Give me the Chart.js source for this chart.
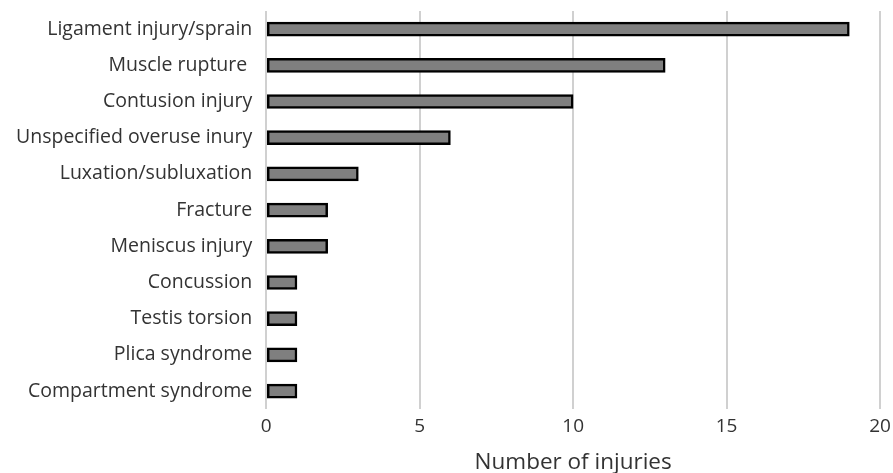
<!DOCTYPE html>
<html>
<head>
<meta charset="utf-8">
<script src="https://cdn.jsdelivr.net/npm/chart.js@4.4.1/dist/chart.umd.min.js"></script>
<style>
  html, body { margin: 0; padding: 0; background: #fff; }
  #wrap { width: 893px; height: 473px; position: relative; }
</style>
</head>
<body>
<div id="wrap"><canvas id="c"></canvas></div>
<script>
const categories = [
  "Ligament injury/sprain",
  "Muscle rupture ",
  "Contusion injury",
  "Unspecified overuse inury",
  "Luxation/subluxation",
  "Fracture",
  "Meniscus injury",
  "Concussion",
  "Testis torsion",
  "Plica syndrome",
  "Compartment syndrome"
];
const injuries = [19, 13, 10, 6, 3, 2, 2, 1, 1, 1, 1];
const xTicks = [0, 5, 10, 15, 20];
const xTitle = "Number of injuries";

const fontFamily = "'Open Sans', 'Noto Sans', sans-serif";

new Chart(document.getElementById('c'), {
  type: 'bar',
  data: {
    labels: categories,
    datasets: [{
      data: injuries,
      backgroundColor: '#7f7f7f',
      borderColor: '#000000',
      borderWidth: 2.5,
      borderSkipped: false,
      barThickness: 14
    }]
  },
  options: {
    indexAxis: 'y',
    responsive: true,
    maintainAspectRatio: false,
    animation: false,
    layout: { padding: { top: 11, right: 13, left: 2, bottom: -3 } },
    plugins: { legend: { display: false }, tooltip: { enabled: false } },
    scales: {
      x: {
        min: 0, max: 20,
        afterBuildTicks: (axis) => { axis.ticks = xTicks.map(v => ({ value: v })); },
        afterFit: (scale) => { scale.paddingRight = 0; },
        grid: { color: '#d0d0d0', lineWidth: 2, drawTicks: false },
        border: { display: false },
        ticks: { color: '#333', font: { family: fontFamily, size: 19 }, padding: 6 },
        title: { display: true, text: xTitle, color: '#333', font: { family: fontFamily, size: 22.5 }, padding: { top: 5, bottom: 0 } }
      },
      y: {
        afterFit: (scale) => { scale.paddingTop = 0; scale.paddingBottom = 0; },
        grid: { display: false, drawTicks: false },
        border: { display: false },
        ticks: { color: '#333', font: { family: fontFamily, size: 19.5 }, padding: 14, autoSkip: false }
      }
    }
  }
});
</script>
</body>
</html>
